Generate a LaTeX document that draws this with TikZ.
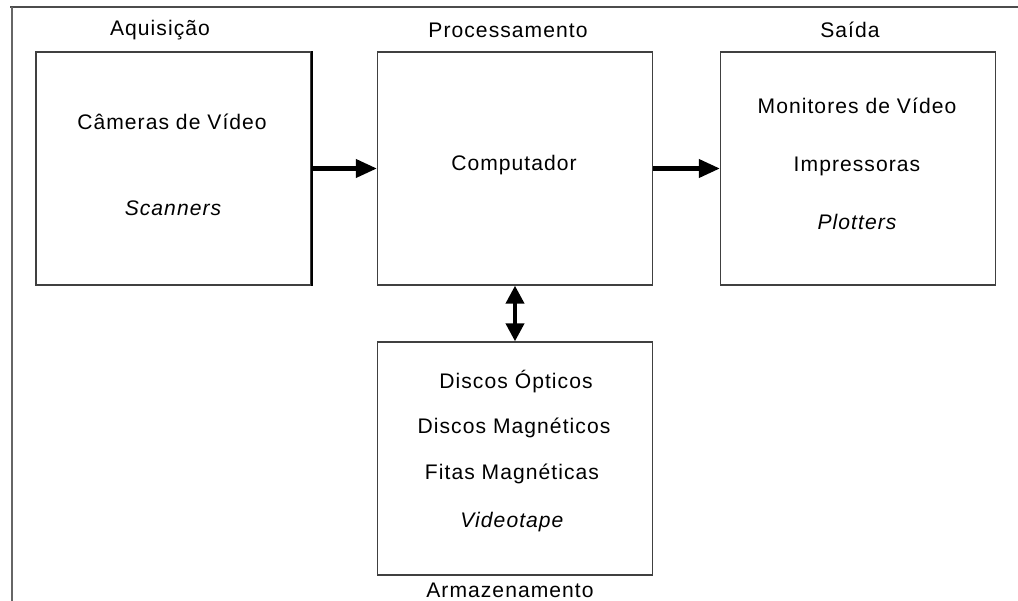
\documentclass[tikz,border=0pt]{standalone}
\usepackage{fontspec}
\setmainfont{Liberation Sans}[LetterSpace=5]
\usetikzlibrary{arrows.meta}
\begin{document}
\begin{tikzpicture}[x=0.02cm,y=-0.02cm,
	bloco/.style={draw=black!75,line width=0.8pt,minimum width=5.5cm,minimum height=4.66cm,inner sep=0pt},
	titulo/.style={font=\fontsize{12}{14}\selectfont},
	item/.style={font=\fontsize{12}{14}\selectfont},
	seta/.style={line width=2.3pt,-{Triangle[length=0.42cm,width=0.36cm]}},
	setadupla/.style={line width=2.3pt,{Triangle[length=0.36cm,width=0.36cm]}-{Triangle[length=0.36cm,width=0.36cm]}}]
	\useasboundingbox (0,0) rectangle (1018,601);
	
	% moldura
	\draw[black!70,line width=1pt] (10,7)--(1018,7);
	\draw[black!60,line width=1pt] (12,7)--(12,601);
	
	% blocos
	\node[bloco] (aquis) at (173.5,168.5) {};
	\node[bloco] (proc) at (515,168.5) {};
	\node[bloco] (saida) at (858,168.5) {};
	\node[bloco] (armaz) at (515,458.5) {};
	\draw[line width=1.2pt] (aquis.north east)--(aquis.south east);
	
	% titulos
	\path
	(160,30) node[titulo]{Aquisição}
	(508,30) node[titulo]{Processamento}
	(850,30) node[titulo]{Saída}
	(510,590) node[titulo]{Armazenamento};
	
	% conteudo
	\path
	(172,122) node[item]{Câmeras de Vídeo}
	(173,208) node[item]{\itshape Scanners}
	(514,165) node[item]{Computador}
	(857,106) node[item]{Monitores de Vídeo}
	(857,166) node[item]{Impressoras}
	(857,222) node[item]{\itshape Plotters}
	(516,382) node[item]{Discos Ópticos}
	(514,428) node[item]{Discos Magnéticos}
	(512,474) node[item]{Fitas Magnéticas}
	(512,522) node[item]{\itshape Videotape};
	
	% setas
	\draw[seta] (aquis.east)--(proc.west);
	\draw[seta] (proc.east)--(saida.west);
	\draw[setadupla] (proc.south)--(armaz.north);
\end{tikzpicture}
\end{document}
